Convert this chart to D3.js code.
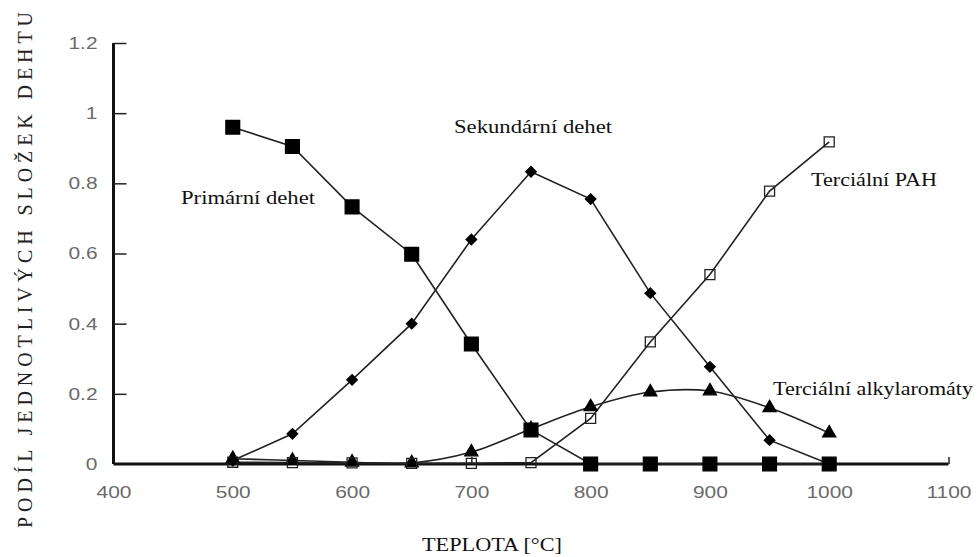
<!DOCTYPE html>
<html><head><meta charset="utf-8">
<script src="https://cdn.jsdelivr.net/npm/d3@7"></script>
<style>body{margin:0;background:#fff}svg{display:block}</style>
</head><body>
<script>
const temps = [500,550,600,650,700,750,800,850,900,950,1000];
const primarni = [0.96,0.905,0.733,0.598,0.342,0.097,0,0,0,0,0];
const sekundarni = [0.01,0.086,0.24,0.40,0.64,0.833,0.755,0.487,0.277,0.068,0];
const terciPAH = [0.005,0.004,0.003,0.002,0.002,0.004,0.13,0.348,0.54,0.778,0.918];
const terciAlkyl = [0.015,0.01,0.005,0.003,0.034,0.1,0.163,0.205,0.208,0.16,0.088];
const xTicks = [400,500,600,700,800,900,1000,1100];
const yTicks = [0,0.2,0.4,0.6,0.8,1,1.2];
const seriesLabels = ["Primární dehet","Sekundární dehet","Terciální PAH","Terciální alkylaromáty"];

const W=979,H=557;
const svg=d3.select("body").append("svg").attr("width",W).attr("height",H);
const x=d3.scaleLinear().domain([400,1100]).range([113.5,948.5]);
const y=d3.scaleLinear().domain([0,1.2]).range([464,43]);

// axes
const xa=svg.append("g").attr("transform","translate(0,464)")
  .call(d3.axisBottom(x).tickValues(xTicks).tickSize(-7).tickPadding(22).tickFormat(d3.format("d")));
const ya=svg.append("g").attr("transform","translate(113.5,0)")
  .call(d3.axisLeft(y).tickValues(yTicks).tickSize(-13).tickPadding(16).tickFormat(d=>String(d)));
[xa,ya].forEach(a=>{
  a.select(".domain").attr("stroke","#111").attr("stroke-width",3);
  a.selectAll(".tick line").attr("stroke","#222").attr("stroke-width",1.5);
  a.selectAll(".tick text").attr("fill","#6a6a6a").attr("font-family","Liberation Sans, Arial, sans-serif").attr("font-size",17)
    .each(function(){const l=this.getComputedTextLength();this.setAttribute("textLength",l*1.23);this.setAttribute("lengthAdjust","spacingAndGlyphs");});
});
xa.selectAll(".tick text").attr("y",22).attr("dy","0.71em");
ya.selectAll(".tick text").attr("x",-16);
xa.select(".domain").attr("d",`M${x(400)},0H${x(1100)}`);
ya.select(".domain").attr("d",`M0,${y(1.2)}V${y(0)}`);
ya.selectAll(".tick").filter(d=>d===0).select("line").remove();
xa.selectAll(".tick").filter(d=>d===400).select("line").remove();

const line=d3.line().x((d,i)=>x(temps[i])).y(d=>y(d));
const smooth=d3.line().x((d,i)=>x(temps[i])).y(d=>y(d)).curve(d3.curveCatmullRom.alpha(0.5));
function path(data,gen){
  svg.append("path").datum(data).attr("d",gen).attr("fill","none").attr("stroke","#222").attr("stroke-width",1.6);
}
path(terciAlkyl,smooth);
path(terciPAH,line);
path(sekundarni,line);
path(primarni,line);

const sym=(type,size)=>d3.symbol().type(type).size(size);
function markers(data,type,size,fill,stroke,rot){
  svg.append("g").selectAll("path").data(data).join("path")
    .attr("transform",(d,i)=>`translate(${x(temps[i])},${y(d)})${rot?" rotate(45)":""}`)
    .attr("d",sym(type,size)).attr("fill",fill).attr("stroke",stroke).attr("stroke-width",1.3);
}
markers(terciAlkyl,d3.symbolTriangle,75,"#000","#000");
markers(terciPAH,d3.symbolSquare,100,"none","#222");
markers(sekundarni,d3.symbolSquare,55,"#000","#000",true);
markers(primarni,d3.symbolSquare,190,"#000","#000");

// series labels
const serif="Liberation Serif, Times New Roman, serif";
const lab=[[181,204,134],[454,133,158],[811,186,126],[773,395,200]];
svg.append("g").selectAll("text").data(seriesLabels).join("text")
  .attr("x",(d,i)=>lab[i][0]).attr("y",(d,i)=>lab[i][1])
  .attr("textLength",(d,i)=>lab[i][2]).attr("lengthAdjust","spacingAndGlyphs")
  .attr("font-family",serif).attr("font-size",19).attr("fill","#111").text(d=>d);

// axis titles
svg.append("text").attr("x",492).attr("y",551).attr("text-anchor","middle")
  .attr("font-family",serif).attr("font-size",19).attr("fill","#111")
  .attr("textLength",140).attr("lengthAdjust","spacingAndGlyphs").text("TEPLOTA [°C]");
svg.append("text").attr("transform","translate(32,270) rotate(-90)").attr("text-anchor","middle")
  .attr("font-family",serif).attr("font-size",20).attr("fill","#222")
  .attr("textLength",516).attr("lengthAdjust","spacing").text("PODÍL JEDNOTLIVÝCH SLOŽEK DEHTU");
</script>
</body></html>
